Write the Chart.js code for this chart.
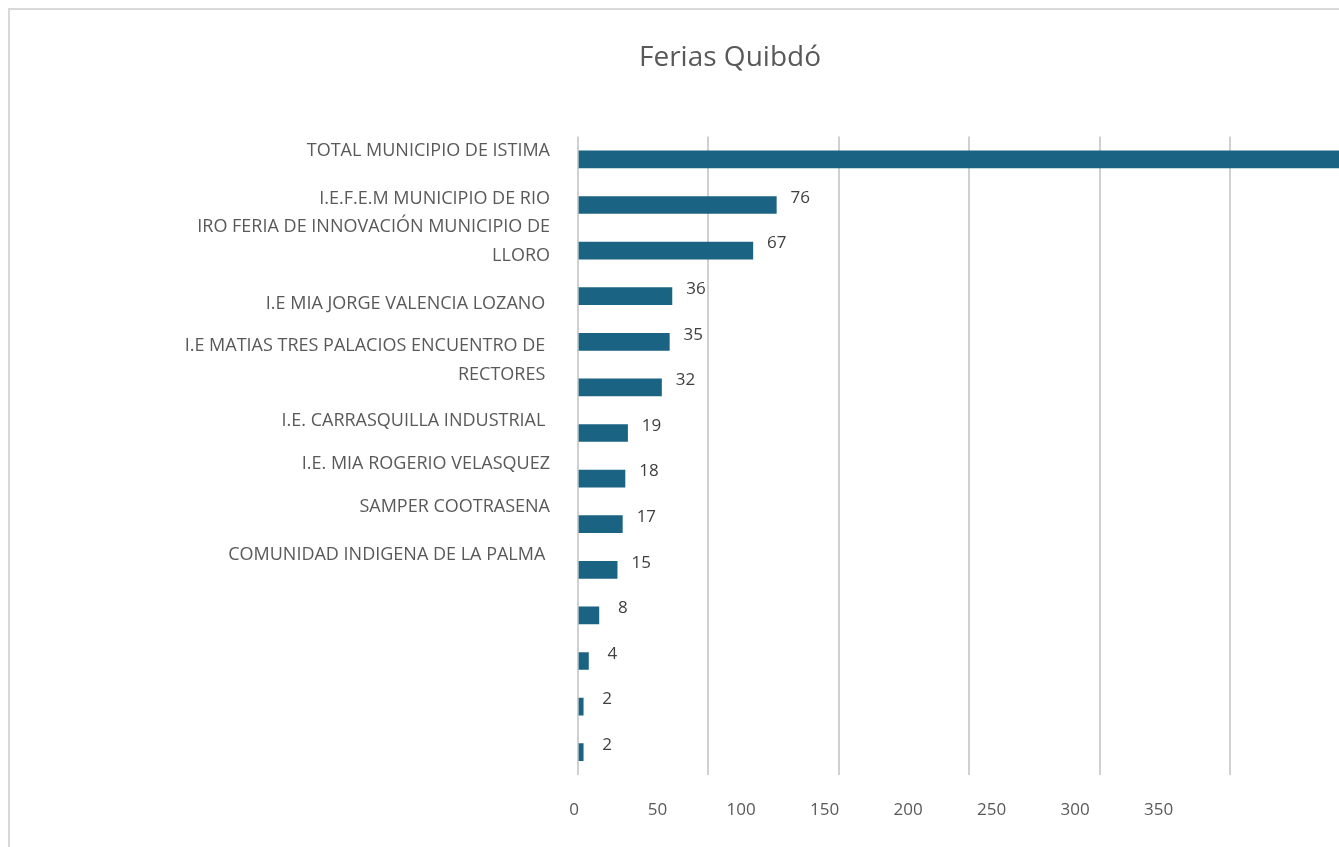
<!DOCTYPE html>
<html>
<head>
<meta charset="utf-8">
<script src="https://cdn.jsdelivr.net/npm/chart.js@4"></script>
<style>
  html, body { margin: 0; padding: 0; background: #fff; overflow: hidden; }
  .frame { position: absolute; left: 8px; top: 8px; width: 1500px; height: 900px;
           border-left: 2px solid #d9d9d9; border-top: 2px solid #d9d9d9; }
  canvas { position: absolute; left: 0; top: 0; }
</style>
</head>
<body>
<div class="frame"></div>
<canvas id="barChart" width="1480" height="847"></canvas>
<script>
// bars, top to bottom
const categories = ['TOTAL MUNICIPIO DE ISTIMA', 'I.E.F.E.M MUNICIPIO DE RIO IRO', 'FERIA DE INNOVACIÓN MUNICIPIO DE LLORO',
  'I.E MIA JORGE VALENCIA LOZANO', 'I.E MATIAS TRES PALACIOS', 'ENCUENTRO DE RECTORES', 'I.E. CARRASQUILLA INDUSTRIAL',
  'I.E. MIA ROGERIO VELASQUEZ', 'SAMPER COOTRASENA', 'COMUNIDAD INDIGENA DE LA PALMA', '', '', '', ''];
const values = [331, 76, 67, 36, 35, 32, 19, 18, 17, 15, 8, 4, 2, 2];

// left axis text as it appears (lines), and where each line sits in bar-slot units
const labelLines = ['TOTAL MUNICIPIO DE ISTIMA', 'I.E.F.E.M MUNICIPIO DE RIO', 'IRO FERIA DE INNOVACIÓN MUNICIPIO DE', 'LLORO',
  'I.E MIA JORGE VALENCIA LOZANO ', 'I.E MATIAS TRES PALACIOS ENCUENTRO DE ', 'RECTORES ',
  'I.E. CARRASQUILLA INDUSTRIAL ', 'I.E. MIA ROGERIO VELASQUEZ', 'SAMPER COOTRASENA', 'COMUNIDAD INDIGENA DE LA PALMA '];
const labelRows = [0.32, 1.36, 1.99, 2.61, 3.66, 4.59, 5.23, 6.24, 7.17, 8.11, 9.17];

const xTicks = [0, 50, 100, 150, 200, 250, 300, 350];

const valueLabels = {
  id: 'valueLabels',
  afterDatasetsDraw(chart) {
    const ctx = chart.ctx;
    const area = chart.chartArea;
    const meta = chart.getDatasetMeta(0);
    ctx.save();
    ctx.font = '17px "Open Sans"';
    ctx.fillStyle = '#404040';
    ctx.textAlign = 'center';
    ctx.textBaseline = 'middle';
    meta.data.forEach((bar, i) => {
      const x = bar.x + 24;
      if (x > area.right) return;
      ctx.fillText(values[i], x, bar.y - 7);
    });
    ctx.restore();
  }
};

const ctxBar = document.getElementById('barChart');
new Chart(ctxBar, {
  type: 'bar',
  data: {
    labels: categories,
    datasets: [{
      data: values,
      backgroundColor: '#1b6382',
      barThickness: 17
    }]
  },
  options: {
    indexAxis: 'y',
    responsive: false,
    animation: false,
    layout: { padding: { top: 0, right: 20, bottom: 0, left: 0 } },
    plugins: {
      legend: { display: false },
      tooltip: { enabled: false },
      title: {
        display: true,
        text: 'Ferias Quibdó',
        color: '#595959',
        font: { family: '"Open Sans"', size: 28, weight: 'normal' },
        padding: { top: 41, bottom: 62 }
      }
    },
    scales: {
      x: {
        min: 0, max: 338,
        grid: { color: '#d0d0d0', lineWidth: 2, drawTicks: false },
        border: { display: false },
        ticks: { display: false },
        afterBuildTicks: s => { s.ticks = s.ticks.filter(t => t.value % 50 === 0); },
        afterFit: s => { s.height = 0; }
      },
      xl: {
        type: 'linear',
        position: 'bottom',
        min: 0, max: 528,
        grid: { display: false, drawTicks: false },
        border: { display: false },
        ticks: {
          color: '#595959',
          font: { family: '"Open Sans"', size: 17 },
          padding: 25,
          labelOffset: -4,
          autoSkip: false,
          maxRotation: 0
        },
        afterBuildTicks: s => { s.ticks = xTicks.map(v => ({ value: v })); },
        afterFit: s => { s.height = 72; }
      },
      y: {
        grid: { display: false },
        border: { display: false },
        ticks: { display: false },
        afterFit: s => { s.width = 0; }
      },
      yl: {
        type: 'linear',
        position: 'left',
        reverse: true,
        offset: false,
        min: 0, max: values.length,
        grid: { display: false, drawTicks: false },
        border: { display: false },
        ticks: {
          color: '#595959',
          font: { family: '"Open Sans"', size: 18 },
          padding: 28,
          autoSkip: false,
          callback: (v, i) => labelLines[i]
        },
        afterBuildTicks: s => { s.ticks = labelRows.map(v => ({ value: v })); },
        afterFit: s => { s.width = 578; }
      }
    }
  },
  plugins: [valueLabels]
});
</script>
</body>
</html>
